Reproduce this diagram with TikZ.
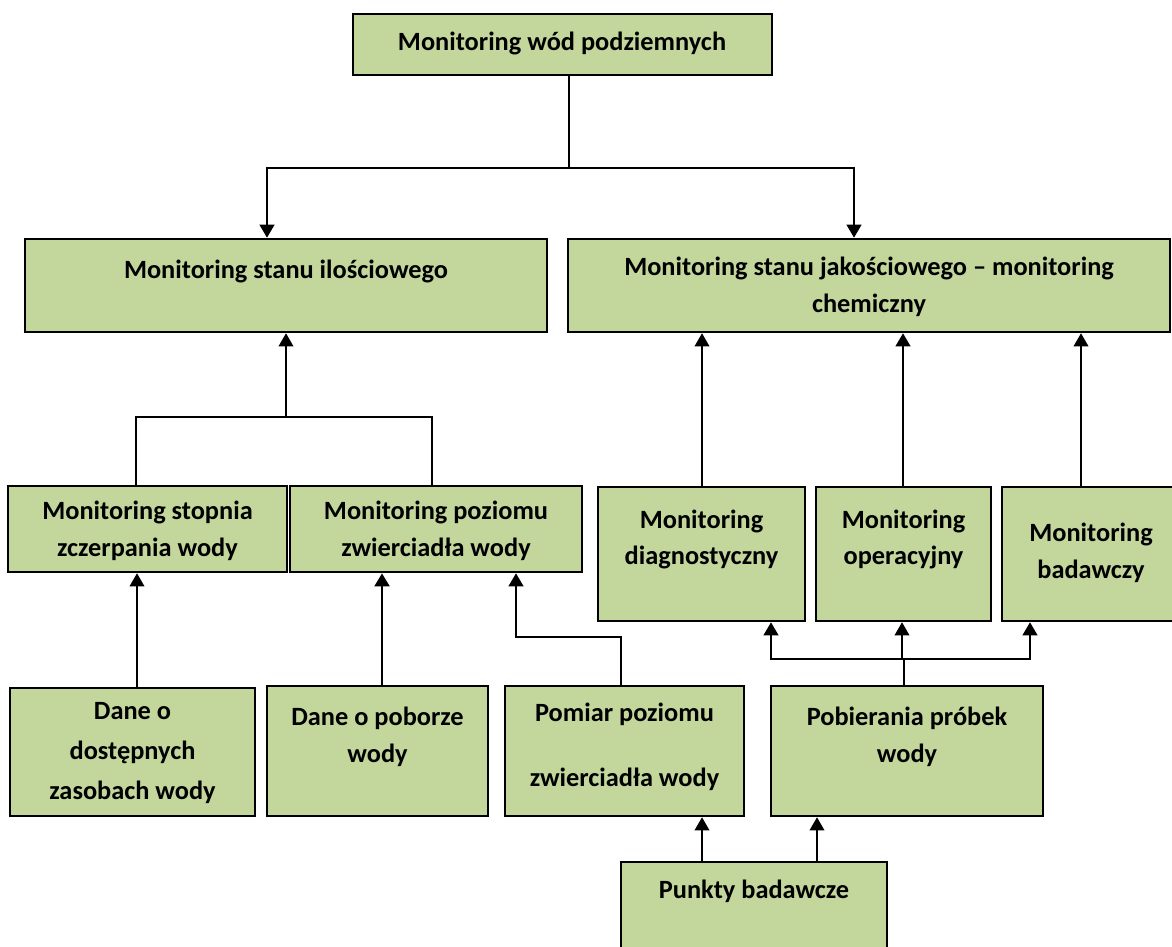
\documentclass[tikz,border=0pt]{standalone}
\usepackage{fontspec}
\setmainfont{Carlito}
\usetikzlibrary{arrows.meta}

\definecolor{boxgreen}{RGB}{195,214,155}

\begin{document}
\begin{tikzpicture}[x=0.02cm, y=-0.02cm,
    box/.style={draw, fill=boxgreen, line width=1.5pt, inner sep=0pt},
    txt/.style={align=center, inner sep=0pt, font=\fontsize{15}{21}\selectfont\bfseries},
    link/.style={line width=1.1pt},
    thinlink/.style={line width=0.6pt},
    tip/.style={-{Triangle[length=7.5pt, width=8.5pt]}}]

    % Page frame
    \useasboundingbox (0,0) rectangle (1172,946);

    % Top level
    \node[box, minimum width=8.38cm, minimum height=1.22cm] (top) at (562.5,44.5) {};
    \node[txt] (top-t) at (562,43) {Monitoring wód podziemnych};

    % Second level
    \node[box, minimum width=10.44cm, minimum height=1.86cm] (ilosc) at (286,285.5) {};
    \node[txt] (ilosc-t) at (286,271) {Monitoring stanu ilościowego};
    \node[box, minimum width=12.04cm, minimum height=1.86cm] (jakosc) at (869,285.5) {};
    \node[txt] (jakosc-t) at (869,287) {Monitoring stanu jakościowego -- monitoring\\ chemiczny};

    % Third level, quantitative side
    \node[box, minimum width=5.58cm, minimum height=1.72cm] (stopnia) at (147.5,529) {};
    \node[txt] (stopnia-t) at (147.5,531) {Monitoring stopnia\\ zczerpania wody};
    \node[box, minimum width=5.84cm, minimum height=1.72cm] (poziomu) at (436,529) {};
    \node[txt] (poziomu-t) at (436,531) {Monitoring poziomu\\ zwierciadła wody};

    % Third level, chemical side
    \node[box, minimum width=4.14cm, minimum height=2.68cm] (diag) at (701.5,554) {};
    \node[txt] (diag-t) at (701.5,539.5) {Monitoring\\ diagnostyczny};
    \node[box, minimum width=3.50cm, minimum height=2.68cm] (oper) at (903.5,554) {};
    \node[txt] (oper-t) at (903.5,539.5) {Monitoring\\ operacyjny};
    \node[box, minimum width=3.56cm, minimum height=2.68cm] (badaw) at (1091,554) {};
    \node[txt] (badaw-t) at (1091,552.5) {Monitoring\\ badawczy};

    % Data sources
    \node[box, minimum width=4.90cm, minimum height=2.56cm] (daneA) at (132.5,752) {};
    \node[txt, font=\fontsize{15}{22.5}\selectfont\bfseries] (daneA-t) at (132.5,753) {Dane o\\ dostępnych\\ zasobach wody};
    \node[box, minimum width=4.42cm, minimum height=2.60cm] (daneB) at (377.5,751) {};
    \node[txt] (daneB-t) at (377.5,737) {Dane o poborze\\ wody};
    \node[box, minimum width=4.78cm, minimum height=2.60cm] (pomiar) at (624.5,751) {};
    \node[txt] (pomiar-t) at (624.5,746.5) {Pomiar poziomu\\[16pt] zwierciadła wody};
    \node[box, minimum width=5.44cm, minimum height=2.60cm] (pobier) at (907,751) {};
    \node[txt] (pobier-t) at (907,737) {Pobierania próbek\\ wody};

    % Bottom
    \node[box, minimum width=5.32cm, minimum height=1.80cm] (punkty) at (754,907) {};
    \node[txt] (punkty-t) at (754,891) {Punkty badawcze};

    % Split below the top box
    \coordinate (j0) at (569,168);
    \coordinate (j1) at (267,168);
    \coordinate (j2) at (854,168);
    \draw[link] (top.south -| j0) -- (j0);
    \draw[link, tip] (j0) -- (j1) -- (ilosc.north -| j1);
    \draw[link, tip] (j0) -- (j2) -- (jakosc.north -| j2);

    % Joining stopnia and poziomu
    \coordinate (k0) at (286,417);
    \coordinate (k1) at (136,417);
    \coordinate (k2) at (432,417);
    \draw[link] (stopnia.north -| k1) -- (k1) -- (k2) -- (poziomu.north -| k2);
    \draw[thinlink, tip] (k0) -- (ilosc.south -| k0);

    % Chemical monitoring types
    \draw[thinlink, tip] (diag.north -| 702,0) -- (jakosc.south -| 702,0);
    \draw[link, tip] (oper.north -| 903,0) -- (jakosc.south -| 903,0);
    \draw[thinlink, tip] (badaw.north -| 1081,0) -- (jakosc.south -| 1081,0);

    % Data into quantitative monitoring
    \draw[thinlink, tip] (daneA.north -| 137,0) -- (stopnia.south -| 137,0);
    \draw[link, line width=1.5pt, tip] (daneB.north -| 382,0) -- (poziomu.south -| 382,0);
    \coordinate (m0) at (621,637);
    \coordinate (m1) at (516,637);
    \draw[link, tip] (pomiar.north -| m0) -- (m0) -- (m1) -- (poziomu.south -| m1);

    % Sampling into chemical monitoring
    \coordinate (p0) at (904,659);
    \coordinate (p1) at (771,659);
    \coordinate (p2) at (1030,659);
    \draw[link] (pobier.north -| p0) -- (p0);
    \draw[link, tip] (p0) -- (p1) -- (diag.south -| p1);
    \draw[link, tip] (p0) -- (p2) -- (badaw.south -| p2);
    \draw[thinlink, tip] (902,659) -- (oper.south -| 902,0);

    % Research points
    \draw[thinlink, tip] (punkty.north -| 702,0) -- (pomiar.south -| 702,0);
    \draw[thinlink, tip] (punkty.north -| 817,0) -- (pobier.south -| 817,0);

\end{tikzpicture}
\end{document}
